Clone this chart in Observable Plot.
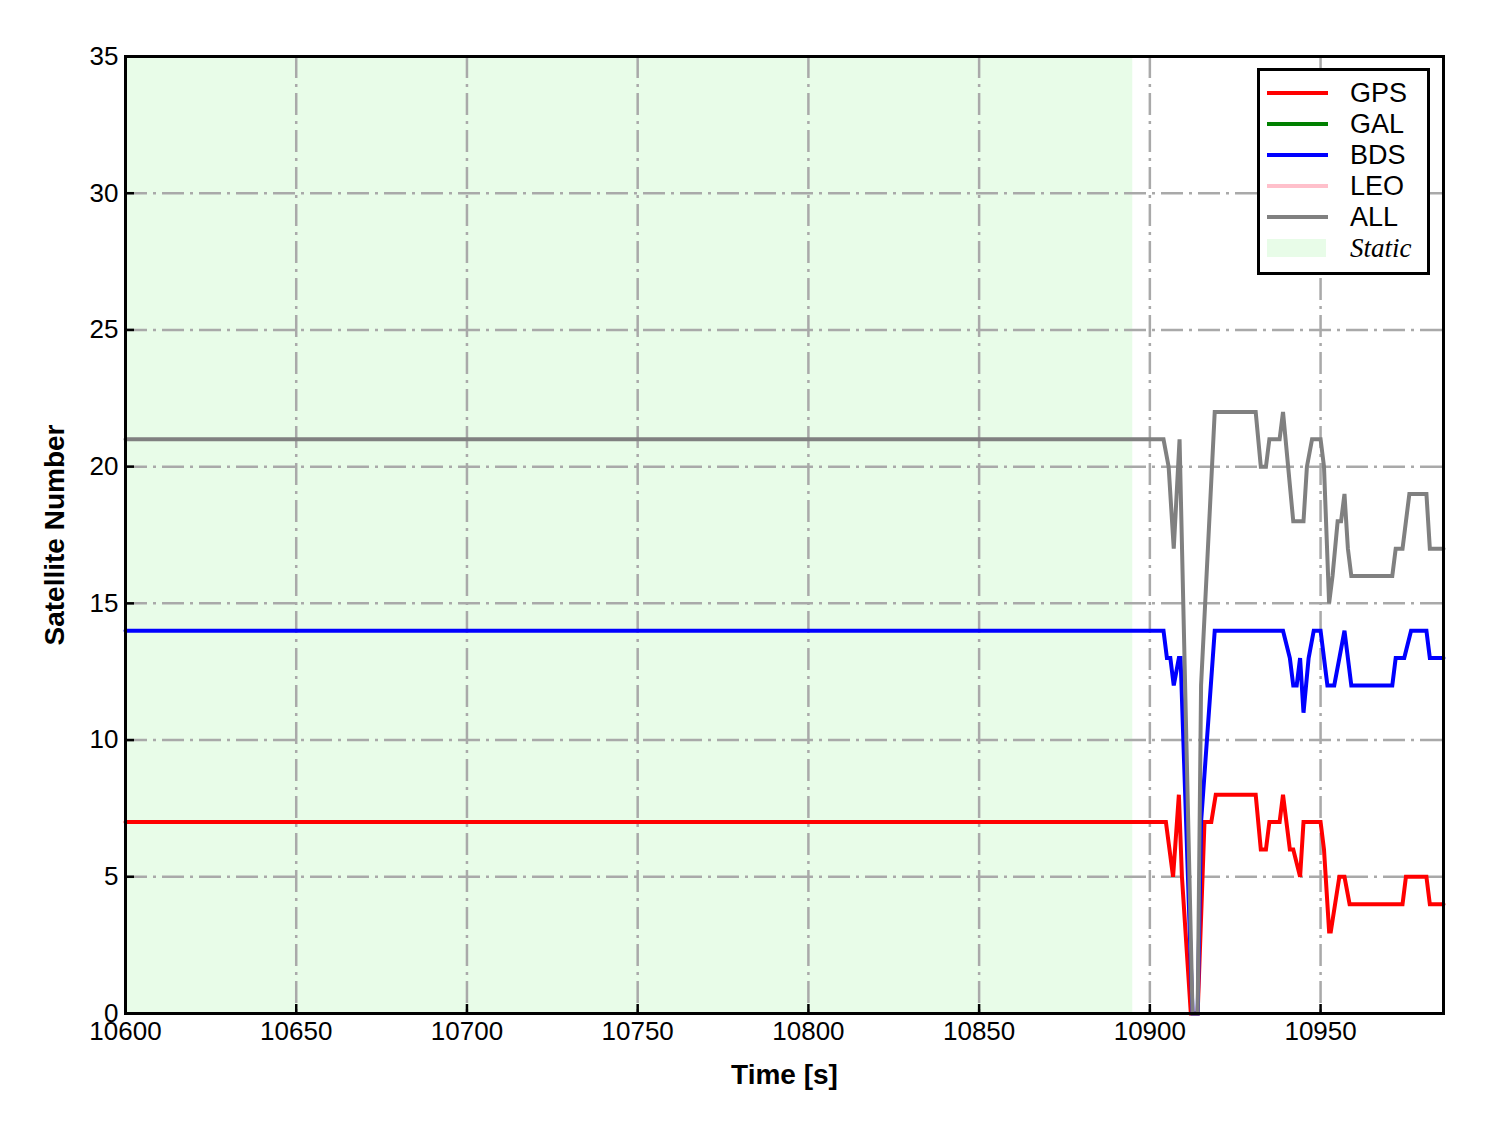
<!DOCTYPE html>
<html><head><meta charset="utf-8">
<script src="https://cdn.jsdelivr.net/npm/d3@7"></script>
<script src="https://cdn.jsdelivr.net/npm/@observablehq/plot@0.6"></script>
<style>
body{margin:0;background:#fff;}
#wrap{position:relative;width:1488px;height:1133px;font-family:"Liberation Sans",Arial,sans-serif;}
#legend{position:absolute;left:1257px;top:68px;width:173px;height:207px;box-sizing:border-box;border:3px solid #000;background:#fff;}
#legend svg{position:absolute;left:0;top:0;}
</style></head><body><div id="wrap"><div id="legend"></div></div>
<script>
// ---- data ----
const gpsTime = [10600,10904.7,10906.8,10908.5,10909.4,10912,10914,10916,10918,10919.3,10931,10932.5,10934,10935,10938,10939,10941,10942,10944,10945,10950,10951,10952.5,10953,10955.5,10957,10958.5,10974,10975,10981,10982,10986];
const gpsSats = [7,7,5,8,5,0,0,7,7,8,8,6,6,7,7,8,6,6,5,7,7,6,3,3,5,5,4,4,5,5,4,4];

const bdsTime = [10600,10904,10905,10906,10907,10908.5,10909,10912.5,10914,10915,10919,10939,10941,10942,10943,10944,10945,10946.5,10948,10950,10952,10954,10955.5,10957,10959,10971,10972,10974.5,10976.5,10981,10982,10986];
const bdsSats = [14,14,13,13,12,13,13,0,0,7,14,14,13,12,12,13,11,13,14,14,12,12,13,14,12,12,13,13,14,14,13,13];

const allTime = [10600,10904,10905.5,10907,10908.7,10912.5,10914,10915,10919,10931,10932.5,10934,10935,10938,10939,10942,10945,10946,10947.5,10950,10951,10952.5,10953.5,10955,10956,10957,10958,10959,10971,10972,10974,10976,10981,10982,10986];
const allSats = [21,21,20,17,21,0,0,12,22,22,20,20,21,21,22,18,18,20,21,21,20,15,16,18,18,19,17,16,16,17,17,19,19,17,17];

const galTime = [];
const galSats = [];
const leoTime = [];
const leoSats = [];

const staticSpan = [10600, 10895];
const xTicks = [10600,10650,10700,10750,10800,10850,10900,10950];
const yTicks = [0,5,10,15,20,25,30,35];
const xDomain = [10600, 10986];
const yDomain = [0, 35];

const seriesNames = ["GPS","GAL","BDS","LEO","ALL"];
const seriesColors = ["#ff0000","#008000","#0000ff","#ffc0cb","#808080"];
const staticLabel = "Static";
const staticColor = "#e8fce8";
const xLabel = "Time [s]";
const yLabel = "Satellite Number";

// ---- build ----
const toRows = (ts, vs, s) => ts.map((t, i) => ({t, v: vs[i], series: s}));
const seriesData = [
  toRows(gpsTime, gpsSats, "GPS"),
  toRows(galTime, galSats, "GAL"),
  toRows(bdsTime, bdsSats, "BDS"),
  toRows(leoTime, leoSats, "LEO"),
  toRows(allTime, allSats, "ALL")
];

const W = 1488, H = 1133, mL = 125, mR = 45, mT = 56, mB = 120;
const innerW = W - mL - mR, innerH = H - mT - mB;
const gridStyle = {stroke: "#a9a9a9", strokeWidth: 2.5, strokeDasharray: "22,6,3,6"};
const fmt = d => String(d);

const chart = Plot.plot({
  width: W, height: H,
  marginLeft: mL, marginRight: mR, marginTop: mT, marginBottom: mB,
  style: {fontFamily: '"Liberation Sans", Arial, sans-serif', fontSize: "26px", background: "white", color: "black"},
  x: {domain: xDomain},
  y: {domain: yDomain},
  marks: [
    Plot.rect([{a: staticSpan[0], b: staticSpan[1]}], {x1: "a", x2: "b", fill: staticColor}),
    Plot.ruleX(xTicks, gridStyle),
    Plot.ruleY(yTicks, gridStyle),
    ...seriesData.map((d, i) => Plot.line(d, {x: "t", y: "v", stroke: seriesColors[i], strokeWidth: 4, strokeLinejoin: "miter", strokeMiterlimit: 3})),
    Plot.ruleX(xTicks, {stroke: "black", strokeWidth: 2.5, insetTop: innerH - 9}),
    Plot.ruleY(yTicks, {stroke: "black", strokeWidth: 2.5, insetRight: innerW - 9}),
    Plot.axisX(xTicks, {tickSize: 0, tickPadding: 8, fontSize: 26, label: null, tickFormat: fmt}),
    Plot.axisY(yTicks, {tickSize: 0, tickPadding: 7, fontSize: 26, label: null, tickFormat: fmt}),
    Plot.text([xLabel], {text: d => d, frameAnchor: "bottom", textAnchor: "middle", lineAnchor: "middle", dy: 62, fontWeight: "bold", fontSize: 28}),
    Plot.text([yLabel], {text: d => d, frameAnchor: "left", textAnchor: "middle", lineAnchor: "middle", dx: -70, rotate: -90, fontWeight: "bold", fontSize: 28}),
    Plot.frame({stroke: "black", strokeWidth: 3})
  ]
});
document.getElementById("wrap").prepend(chart);

// ---- legend ----
const leg = d3.select("#legend").append("svg").attr("width", 167).attr("height", 201);
const rowY = (i) => 22 + i * 31;
seriesNames.forEach((name, i) => {
  leg.append("line").attr("x1", 7).attr("x2", 68).attr("y1", rowY(i)).attr("y2", rowY(i))
    .attr("stroke", seriesColors[i]).attr("stroke-width", 4);
  leg.append("text").attr("x", 90).attr("y", rowY(i)).attr("dy", "0.35em")
    .attr("font-family", '"Liberation Sans", Arial, sans-serif').attr("font-size", 27).text(name);
});
leg.append("rect").attr("x", 7).attr("y", 168).attr("width", 59).attr("height", 18).attr("fill", staticColor);
leg.append("text").attr("x", 90).attr("y", 177).attr("dy", "0.35em")
  .attr("font-family", '"Liberation Serif", "Times New Roman", serif').attr("font-style", "italic")
  .attr("font-size", 27).text(staticLabel);
</script>
</body></html>
